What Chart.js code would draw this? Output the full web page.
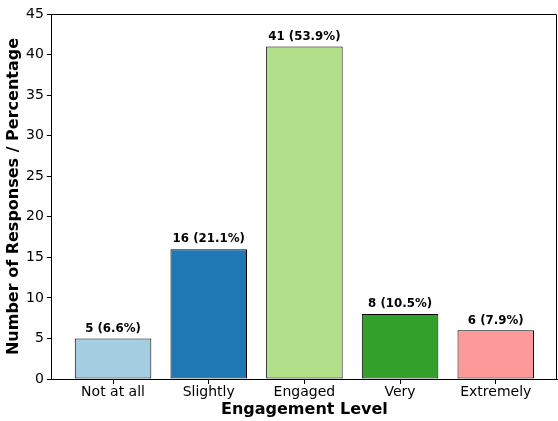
<!DOCTYPE html>
<html lang="en">
  <head>
    <meta charset="UTF-8" />
    <title>Engagement Level</title>
    <script src="https://cdn.jsdelivr.net/npm/chart.js@4.4.0/dist/chart.umd.min.js"></script>
    <style>
      body { margin: 0; background: #fff; }
      #wrap { width: 558px; height: 421px; }
    </style>
  </head>
  <body>
    <div id="wrap"><canvas id="myChart" width="558" height="421"></canvas></div>

    <script>
      const levels = ['Not at all', 'Slightly', 'Engaged', 'Very', 'Extremely']
      const counts = [5, 16, 41, 8, 6]
      const percents = [6.6, 21.1, 53.9, 10.5, 7.9]
      const colors = ['#a6cee3', '#1f78b4', '#b2df8a', '#33a02c', '#fb9a99']
      const yTicks = [0, 5, 10, 15, 20, 25, 30, 35, 40, 45]

      const font = 'DejaVu Sans'

      // text over each bar: "count (pct%)"
      const barLabels = {
        id: 'barLabels',
        afterDatasetsDraw(chart) {
          const ctx = chart.ctx
          const meta = chart.getDatasetMeta(0)
          ctx.save()
          ctx.font = 'bold 11.8px "' + font + '"'
          ctx.fillStyle = '#000'
          ctx.textAlign = 'center'
          ctx.textBaseline = 'bottom'
          meta.data.forEach((bar, i) => {
            ctx.fillText(counts[i] + ' (' + percents[i].toFixed(1) + '%)', bar.x, bar.y - 4)
          })
          ctx.restore()
        }
      }

      // top and right spines
      const spines = {
        id: 'spines',
        afterDraw(chart) {
          const a = chart.chartArea
          const c = chart.ctx
          c.save()
          c.strokeStyle = '#000'
          c.lineWidth = 1
          c.beginPath()
          c.moveTo(a.left, a.top + 0.5)
          c.lineTo(a.right - 0.5, a.top + 0.5)
          c.lineTo(a.right - 0.5, a.bottom)
          c.stroke()
          c.restore()
        }
      }

      const ctx = document.getElementById('myChart').getContext('2d')
      const myChart = new Chart(ctx, {
        type: 'bar',
        data: {
          datasets: [{
            data: counts.map((c, i) => ({ x: i, y: c })),
            backgroundColor: colors,
            borderColor: '#000',
            borderWidth: 1,
            borderSkipped: false,
            categoryPercentage: 1,
            barPercentage: 0.8
          }]
        },
        plugins: [barLabels, spines],
        options: {
          responsive: false,
          animation: false,
          layout: { padding: { left: 6, right: 1, top: 14, bottom: 0 } },
          plugins: {
            legend: { display: false },
            tooltip: { enabled: false }
          },
          scales: {
            x: {
              type: 'linear',
              offset: false,
              min: -0.64,
              max: 4.64,
              afterBuildTicks: s => { s.ticks = levels.map((l, i) => ({ value: i })) },
              ticks: {
                callback: v => levels[v],
                color: '#000',
                font: { family: font, size: 14, lineHeight: 1.1 },
                padding: 1,
                maxRotation: 0,
                autoSkip: false
              },
              grid: { offset: false, drawOnChartArea: false, tickLength: 5, tickColor: '#000' },
              border: { color: '#000', width: 1 },
              title: {
                display: true,
                text: 'Engagement Level',
                color: '#000',
                font: { family: font, size: 16, weight: 'bold', lineHeight: 1.1 },
                padding: { top: 0, bottom: 2 }
              }
            },
            y: {
              min: 0,
              max: 45,
              afterBuildTicks: s => { s.ticks = yTicks.map(v => ({ value: v })) },
              ticks: {
                color: '#000',
                font: { family: font, size: 14 },
                padding: 3
              },
              grid: { drawOnChartArea: false, tickLength: 5, tickColor: '#000' },
              border: { color: '#000', width: 1 },
              title: {
                display: true,
                text: 'Number of Responses / Percentage',
                color: '#000',
                font: { family: font, size: 16, weight: 'bold', lineHeight: 1.0 },
                padding: { top: 0, bottom: 1 }
              }
            }
          }
        }
      })
    </script>
  </body>
</html>
